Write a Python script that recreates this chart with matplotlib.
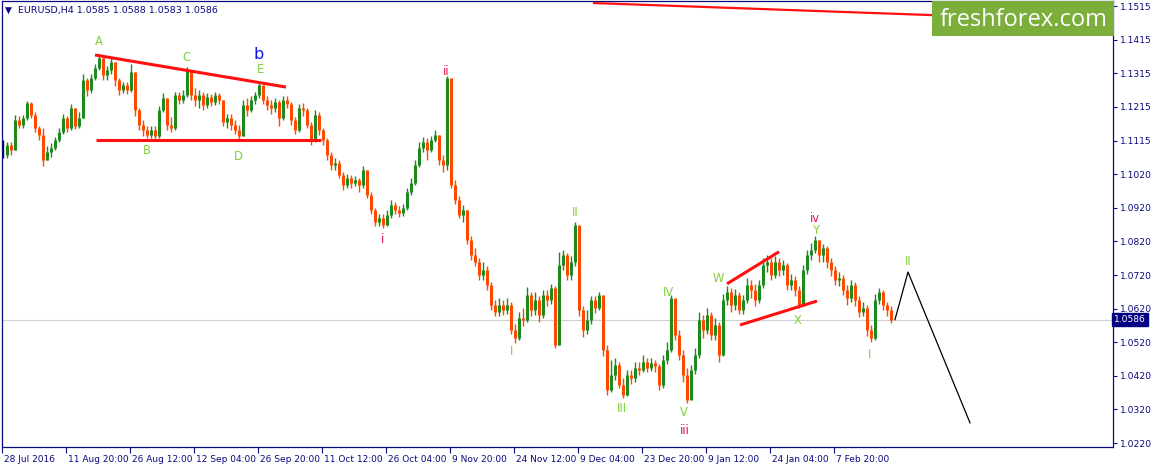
import matplotlib
matplotlib.use('Agg')
import matplotlib.pyplot as plt
import matplotlib.transforms as mtransforms
from matplotlib.patches import Rectangle
import numpy as np

# ---- data: EURUSD H4, one candle per 4 H4 bars (open = previous close) ----
closes = [
    1.1074, 1.1103, 1.1089, 1.1177, 1.1163, 1.1183, 1.1228, 1.1192, 1.1154, 1.1133,
    1.1059, 1.1083, 1.1094, 1.1118, 1.1142, 1.1183, 1.1154, 1.1213, 1.1160, 1.1183,
    1.1296, 1.1266, 1.1302, 1.1332, 1.1361, 1.1311, 1.1326, 1.1349, 1.1296, 1.1266,
    1.1281, 1.1266, 1.1320, 1.1207, 1.1163, 1.1148, 1.1133, 1.1148, 1.1130, 1.1207,
    1.1243, 1.1163, 1.1154, 1.1252, 1.1237, 1.1252, 1.1326, 1.1252, 1.1237, 1.1252,
    1.1222, 1.1246, 1.1231, 1.1252, 1.1237, 1.1171, 1.1183, 1.1163, 1.1148, 1.1130,
    1.1222, 1.1207, 1.1237, 1.1252, 1.1281, 1.1237, 1.1222, 1.1213, 1.1231, 1.1183,
    1.1237, 1.1225, 1.1177, 1.1148, 1.1213, 1.1207, 1.1163, 1.1118, 1.1192, 1.1148,
    1.1118, 1.1074, 1.1044, 1.1050, 1.1014, 1.0985, 1.1006, 1.0991, 1.1000, 1.0985,
    1.1029, 1.0955, 1.0911, 1.0875, 1.0887, 1.0866, 1.0896, 1.0926, 1.0911, 1.0902,
    1.0917, 1.0964, 1.0991, 1.1044, 1.1094, 1.1112, 1.1089, 1.1118, 1.1133, 1.1059,
    1.1044, 1.1302, 1.0985, 1.0940, 1.0896, 1.0911, 1.0822, 1.0777, 1.0757, 1.0718,
    1.0733, 1.0689, 1.0629, 1.0609, 1.0629, 1.0614, 1.0629, 1.0555, 1.0532, 1.0591,
    1.0585, 1.0659, 1.0614, 1.0644, 1.0600, 1.0659, 1.0644, 1.0680, 1.0511, 1.0748,
    1.0777, 1.0718, 1.0757, 1.0866, 1.0614, 1.0555, 1.0585, 1.0644, 1.0620, 1.0659,
    1.0496, 1.0377, 1.0422, 1.0452, 1.0392, 1.0363, 1.0422, 1.0413, 1.0443, 1.0437,
    1.0460, 1.0443, 1.0457, 1.0449, 1.0392, 1.0466, 1.0496, 1.0650, 1.0540, 1.0481,
    1.0422, 1.0348, 1.0437, 1.0481, 1.0585, 1.0555, 1.0600, 1.0540, 1.0570, 1.0481,
    1.0644, 1.0668, 1.0629, 1.0659, 1.0614, 1.0644, 1.0689, 1.0674, 1.0644, 1.0689,
    1.0748, 1.0757, 1.0718, 1.0757, 1.0733, 1.0748, 1.0689, 1.0703, 1.0674, 1.0629,
    1.0733, 1.0777, 1.0792, 1.0822, 1.0777, 1.0798, 1.0757, 1.0733, 1.0703, 1.0709,
    1.0674, 1.0650, 1.0689, 1.0644, 1.0609, 1.0620, 1.0555, 1.0532, 1.0644, 1.0668,
    1.0629, 1.0614, 1.0586,
]
highs = [
    1.1118, 1.1112, 1.1112, 1.1192, 1.1189, 1.1192, 1.1234, 1.1231, 1.1201, 1.1160,
    1.1154, 1.1100, 1.1109, 1.1127, 1.1154, 1.1195, 1.1189, 1.1225, 1.1213, 1.1201,
    1.1314, 1.1302, 1.1314, 1.1343, 1.1373, 1.1361, 1.1337, 1.1361, 1.1349, 1.1302,
    1.1290, 1.1290, 1.1343, 1.1320, 1.1213, 1.1177, 1.1160, 1.1160, 1.1160, 1.1219,
    1.1257, 1.1243, 1.1186, 1.1260, 1.1260, 1.1266, 1.1335, 1.1326, 1.1272, 1.1266,
    1.1260, 1.1257, 1.1254, 1.1260, 1.1257, 1.1237, 1.1195, 1.1195, 1.1177, 1.1163,
    1.1237, 1.1243, 1.1249, 1.1260, 1.1290, 1.1281, 1.1249, 1.1237, 1.1243, 1.1237,
    1.1249, 1.1249, 1.1231, 1.1186, 1.1225, 1.1228, 1.1213, 1.1171, 1.1207, 1.1201,
    1.1154, 1.1124, 1.1083, 1.1065, 1.1059, 1.1023, 1.1017, 1.1014, 1.1012, 1.1006,
    1.1041, 1.1029, 1.0964, 1.0917, 1.0899, 1.0899, 1.0911, 1.0940, 1.0934, 1.0923,
    1.0929, 1.0976, 1.1006, 1.1059, 1.1112, 1.1127, 1.1124, 1.1130, 1.1148, 1.1133,
    1.1074, 1.1308, 1.1296, 1.1000, 1.0952, 1.0926, 1.0911, 1.0834, 1.0798, 1.0769,
    1.0757, 1.0745, 1.0697, 1.0644, 1.0650, 1.0644, 1.0650, 1.0638, 1.0573, 1.0609,
    1.0620, 1.0683, 1.0668, 1.0668, 1.0656, 1.0674, 1.0674, 1.0692, 1.0686, 1.0786,
    1.0792, 1.0783, 1.0775, 1.0875, 1.0851, 1.0626, 1.0614, 1.0656, 1.0656, 1.0668,
    1.0659, 1.0511, 1.0466, 1.0472, 1.0460, 1.0413, 1.0437, 1.0437, 1.0460, 1.0460,
    1.0481, 1.0472, 1.0472, 1.0466, 1.0454, 1.0481, 1.0520, 1.0659, 1.0644, 1.0555,
    1.0496, 1.0443, 1.0452, 1.0502, 1.0609, 1.0600, 1.0620, 1.0609, 1.0591, 1.0579,
    1.0662, 1.0686, 1.0680, 1.0677, 1.0668, 1.0659, 1.0709, 1.0703, 1.0692, 1.0703,
    1.0769, 1.0777, 1.0769, 1.0775, 1.0769, 1.0763, 1.0754, 1.0721, 1.0715, 1.0686,
    1.0748, 1.0792, 1.0813, 1.0834, 1.0822, 1.0810, 1.0804, 1.0769, 1.0745, 1.0727,
    1.0718, 1.0689, 1.0703, 1.0697, 1.0656, 1.0638, 1.0629, 1.0570, 1.0662, 1.0680,
    1.0674, 1.0638, 1.0626,
]
lows = [
    1.1065, 1.1065, 1.1074, 1.1089, 1.1154, 1.1154, 1.1177, 1.1183, 1.1142, 1.1118,
    1.1041, 1.1059, 1.1068, 1.1089, 1.1112, 1.1136, 1.1142, 1.1148, 1.1151, 1.1154,
    1.1183, 1.1249, 1.1257, 1.1296, 1.1326, 1.1296, 1.1296, 1.1314, 1.1278, 1.1252,
    1.1257, 1.1254, 1.1260, 1.1189, 1.1148, 1.1130, 1.1124, 1.1124, 1.1121, 1.1124,
    1.1201, 1.1148, 1.1142, 1.1148, 1.1225, 1.1228, 1.1246, 1.1237, 1.1219, 1.1213,
    1.1207, 1.1213, 1.1219, 1.1222, 1.1225, 1.1160, 1.1154, 1.1148, 1.1136, 1.1121,
    1.1130, 1.1189, 1.1201, 1.1225, 1.1243, 1.1225, 1.1207, 1.1195, 1.1201, 1.1160,
    1.1177, 1.1213, 1.1163, 1.1136, 1.1142, 1.1189, 1.1154, 1.1103, 1.1112, 1.1133,
    1.1103, 1.1059, 1.1029, 1.1029, 1.1006, 1.0970, 1.0976, 1.0976, 1.0982, 1.0964,
    1.0976, 1.0946, 1.0899, 1.0863, 1.0863, 1.0857, 1.0863, 1.0887, 1.0899, 1.0890,
    1.0893, 1.0911, 1.0955, 1.0985, 1.1038, 1.1083, 1.1059, 1.1083, 1.1112, 1.1044,
    1.1023, 1.1029, 1.0976, 1.0929, 1.0887, 1.0875, 1.0810, 1.0763, 1.0745, 1.0703,
    1.0703, 1.0674, 1.0614, 1.0597, 1.0597, 1.0600, 1.0603, 1.0543, 1.0517, 1.0526,
    1.0567, 1.0579, 1.0597, 1.0600, 1.0579, 1.0591, 1.0626, 1.0632, 1.0502, 1.0511,
    1.0733, 1.0703, 1.0703, 1.0745, 1.0597, 1.0535, 1.0543, 1.0573, 1.0606, 1.0614,
    1.0478, 1.0363, 1.0372, 1.0407, 1.0383, 1.0354, 1.0360, 1.0395, 1.0401, 1.0422,
    1.0431, 1.0431, 1.0434, 1.0431, 1.0377, 1.0383, 1.0454, 1.0490, 1.0526, 1.0466,
    1.0401, 1.0339, 1.0363, 1.0425, 1.0472, 1.0532, 1.0543, 1.0526, 1.0526, 1.0460,
    1.0478, 1.0629, 1.0609, 1.0614, 1.0603, 1.0603, 1.0635, 1.0650, 1.0626, 1.0635,
    1.0680, 1.0727, 1.0703, 1.0709, 1.0715, 1.0718, 1.0674, 1.0674, 1.0656, 1.0620,
    1.0626, 1.0721, 1.0763, 1.0783, 1.0757, 1.0757, 1.0739, 1.0715, 1.0689, 1.0686,
    1.0659, 1.0629, 1.0638, 1.0626, 1.0594, 1.0597, 1.0537, 1.0520, 1.0526, 1.0632,
    1.0614, 1.0597, 1.0576,
]
date_labels = ['28 Jul 2016', '11 Aug 20:00', '26 Aug 12:00', '12 Sep 04:00',
               '26 Sep 20:00', '11 Oct 12:00', '26 Oct 04:00', '9 Nov 20:00',
               '24 Nov 12:00', '9 Dec 04:00', '23 Dec 20:00', '9 Jan 12:00',
               '24 Jan 04:00', '7 Feb 20:00']
price_labels = ['1.1515', '1.1415', '1.1315', '1.1215', '1.1115', '1.1020', '1.0920',
                '1.0820', '1.0720', '1.0620', '1.0520', '1.0420', '1.0320', '1.0220']
last_price = 1.0586
header = 'EURUSD,H4 1.0585 1.0588 1.0583 1.0586'

# trend lines / projection (candle index, price)
tri_upper = [(23.0, 1.1370), (70.75, 1.1275)]
tri_lower = [(23.25, 1.1118), (79.5, 1.1118)]
long_line = [(147.75, 1.1524), (277.5, 1.1469)]
chan_upper = [(181.0, 1.0692), (194.0, 1.0787)]
chan_lower = [(184.25, 1.0570), (203.5, 1.0641)]
projection = [(223.0, 1.0586), (226.25, 1.0727), (241.75, 1.0280)]

wave_labels = [
    ('A', 24.0, 1.1409, 'g'), ('B', 36.0, 1.1086, 'g'), ('C', 45.75, 1.1364, 'g'),
    ('D', 58.75, 1.1068, 'g'), ('E', 64.25, 1.1328, 'g'), ('b', 64.0, 1.1372, 'b'),
    ('ii', 110.75, 1.1320, 'r'), ('i', 95.0, 1.0822, 'r'), ('II', 143.0, 1.0902, 'g'),
    ('I', 127.25, 1.0490, 'g'), ('III', 154.75, 1.0324, 'g'), ('IV', 166.5, 1.0665, 'g'),
    ('V', 170.25, 1.0312, 'g'), ('iii', 170.5, 1.0256, 'r'), ('W', 178.75, 1.0707, 'g'),
    ('X', 198.75, 1.0582, 'g'), ('Y', 203.25, 1.0851, 'g'), ('iv', 203.0, 1.0887, 'r'),
    ('I', 216.75, 1.0484, 'g'), ('II', 226.25, 1.0757, 'g'),
]

W, H = 1157, 468
fig = plt.figure(figsize=(W / 100, H / 100), dpi=100)
ax = fig.add_axes([2 / W, 21 / H, 1111 / W, 446 / H])

n = len(closes)
xs = np.arange(n)
c = np.array(closes)
o = np.concatenate([[c[0]], c[:-1]])
hi = np.array(highs)
lo = np.array(lows)
cols = np.where(c > o, '#1C8A1C', np.where(c < o, '#FF4800', '#000000'))
ax.vlines(xs, lo, hi, colors=cols, linewidth=1.0, zorder=2)
ax.vlines(xs, np.minimum(o, c), np.maximum(o, c), colors=cols, linewidth=2.2, zorder=2)

ax.axhline(last_price, color='#CFCFCF', lw=0.8, zorder=1)

red = '#FF1010'
for seg in (tri_upper, tri_lower, chan_upper, chan_lower):
    px, py = zip(*seg)
    ax.plot(px, py, color=red, lw=2.2, zorder=3, solid_capstyle='butt')
px, py = zip(*long_line)
ax.plot(px, py, color=red, lw=1.6, zorder=3)
px, py = zip(*projection)
ax.plot(px, py, color='black', lw=0.9, zorder=3)

colmap = {'g': '#7FD03A', 'r': '#E0104A', 'b': '#1010F0'}
for t, xx, yy, k in wave_labels:
    fs = 11.5 if k == 'b' else 8.3
    ax.text(xx, yy, t, color=colmap[k], fontsize=fs, ha='center', va='center', zorder=4)

ax.set_xlim(-0.25, 277.5)
ax.set_ylim(1.02085, 1.1530)

navy = '#0A0A80'
ax.set_xticks(np.arange(len(date_labels)) * 16 - 0.25)
ax.set_xticklabels(date_labels, ha='left')
ax.set_yticks(np.linspace(1.1515, 1.0220, len(price_labels)))
ax.set_yticklabels(price_labels)
ax.yaxis.tick_right()
ax.tick_params(axis='x', direction='out', length=4, width=0.8, color=navy,
               labelcolor=navy, labelsize=6.5, pad=2)
ax.tick_params(axis='y', direction='out', length=3, width=0.8, color=navy,
               labelcolor=navy, labelsize=6.6, pad=2)
for lab in ax.get_xticklabels():
    lab.set_transform(lab.get_transform() + mtransforms.ScaledTranslation(2 / 100, 0, fig.dpi_scale_trans))
for s in ax.spines.values():
    s.set_color(navy)
    s.set_linewidth(0.9)

# current price tag
trans = mtransforms.blended_transform_factory(ax.transAxes, ax.transData)
ax.text(1.0012, last_price, '1.0586', transform=trans, color='white', fontsize=6.6,
        ha='left', va='center', zorder=6, clip_on=False,
        bbox=dict(boxstyle='square,pad=0.2', fc='#000080', ec='#000080'))

# header
ax.text(0.0025, 0.978, '\u25BC', transform=ax.transAxes, color=navy, fontsize=6.5,
        ha='left', va='center')
ax.text(0.0145, 0.978, header, transform=ax.transAxes, color=navy, fontsize=6.8,
        ha='left', va='center')

# logo
fig.patches.append(Rectangle((932 / W, 1 - 36 / H), (1114 - 932) / W, 35 / H,
                             transform=fig.transFigure, fc='#7BAE3A', ec='none', zorder=10))
fig.text(1024 / W, 1 - 19.5 / H, 'freshforex.com', color='white', fontsize=17,
         family='Open Sans', ha='center', va='center', zorder=11)

fig.savefig('out.png', dpi=100)
